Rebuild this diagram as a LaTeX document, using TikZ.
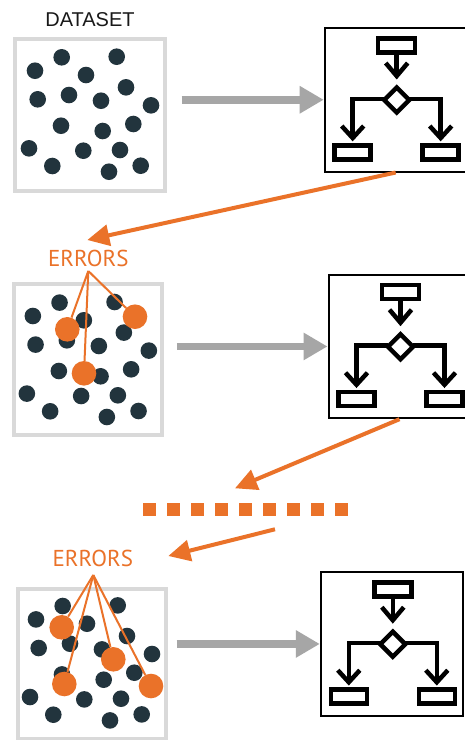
\documentclass[tikz,border=0pt]{standalone}
\usepackage{fontspec}
\setmainfont{Liberation Sans}
\newfontfamily\errfont{PT Sans}
\usetikzlibrary{arrows.meta,calc}

\definecolor{dotc}{HTML}{22343D}
\definecolor{errc}{HTML}{EA7229}
\definecolor{framec}{HTML}{D9D9D9}
\definecolor{flowc}{HTML}{A6A6A6}

% relative positions of the points inside one dataset frame
\newcommand\dotpattern{-28.3/-57.2, 26.7/-57.8, -55/-43.8, -4/-39.5, 36/-27.2,
  -52.3/-15.2, -21/-19.5, 11/-13.8, 61/-9.2, -29/11.2, 12.7/16.5, 43.3/9.5,
  -61/33.8, -6.7/36.2, 30/35.5, -37.7/51.5, 19/57.2, 50.7/51.2}

\tikzset{
  dsframe/.style={draw=framec, line width=4pt, inner sep=0pt},
  treeframe/.style={draw=black, line width=2pt, inner sep=0pt,
    minimum width=142pt, minimum height=143.5pt},
  icon/.style={draw=black, line width=4.5pt, line join=miter},
  errdot/.style={circle, fill=errc, inner sep=0pt, minimum size=24.6pt},
  errline/.style={draw=errc, line width=2pt},
  errarrow/.style={draw=errc, line width=4pt,
    -{Triangle[length=22pt,width=21pt]}},
  flow/.style={draw=flowc, line width=7.5pt,
    -{Triangle[length=24pt,width=26pt]}},
  errlabel/.style={text=errc, font=\errfont\fontsize{23}{23}\selectfont,
    inner sep=0pt, anchor=base},
  dstitle/.style={text=black!90, font=\fontsize{20}{20}\selectfont, inner sep=0pt},
  treeicon/.pic={
    \node[treeframe] (box) at (-1,-0.25) {};
    \draw[icon] (-18.5,-61.5) rectangle (18.5,-47.5);
    \draw[icon] (0,-47.5) -- (0,-24);
    \draw[icon] (-11,-37) -- (0,-24) -- (11,-37);
    \draw[icon] (0,-12.5) -- (12.5,0) -- (0,12.5) -- (-12.5,0) -- cycle;
    \draw[icon] (-12.5,-1) -- (-44,-1) -- (-44,38);
    \draw[icon] (-55,26) -- (-44,38) -- (-33,26);
    \draw[icon] (12.5,-1) -- (44,-1) -- (44,38);
    \draw[icon] (33,26) -- (44,38) -- (55,26);
    \draw[icon] (-62,45.5) rectangle (-26,59.5);
    \draw[icon] (26,45.5) rectangle (62,59.5);
  }
}

\begin{document}
\begin{tikzpicture}[x=1pt,y=-1pt]
  \useasboundingbox (0,0) rectangle (465,740);
  \clip (0,0) rectangle (465,740);
  \fill[white] (0,0) rectangle (465,740);

  % ---- datasets ----
  \node[dstitle] (title) at (90,20) {DATASET};
  \node[dsframe, minimum width=150pt, minimum height=152pt] (ds1) at (90,114.5) {};
  \node[dsframe, minimum width=148.5pt, minimum height=151pt] (ds2) at (87.85,359.8) {};
  \node[dsframe, minimum width=148.5pt, minimum height=150pt] (ds3) at (92,663.5) {};

  \foreach \cx/\cy in {90/114.5, 87.85/359.8, 91/663.2}{
    \begin{scope}[shift={(\cx,\cy)}]
      \foreach \px/\py in \dotpattern
        \fill[dotc] (\px,\py) circle (8.3pt);
    \end{scope}
  }

  % ---- decision trees ----
  \pic (t1) at (396.7,100) {treeicon};
  \pic (t2) at (400.5,346.7) {treeicon};
  \pic (t3) at (392.8,644.2) {treeicon};

  % ---- training arrows ----
  \draw[flow, shorten <=14.7pt] (ds1.east |- t1box.west) -- (t1box.west);
  \draw[flow, shorten <=12.7pt] (ds2.east |- t2box.west) -- (t2box.west);
  \draw[flow, shorten <=8.4pt] (ds3.east |- t3box.west) -- (t3box.west);

  % ---- first round of errors ----
  \node[errlabel] (er1) at (88.3,266) {ERRORS};
  \coordinate (f1) at (88.3,271);
  \node[errdot] (o21) at (67.3,329.3) {};
  \node[errdot] (o22) at (135,316.7) {};
  \node[errdot] (o23) at (84,373.3) {};
  \foreach \o in {o21,o22,o23} \draw[errline] (f1) -- (\o);

  % ---- later round of errors ----
  \node[errlabel] (er2) at (92.8,566.7) {ERRORS};
  \coordinate (f2) at (93.3,575);
  \node[errdot] (o31) at (61.7,627.3) {};
  \node[errdot] (o32) at (113.3,659.3) {};
  \node[errdot] (o33) at (64.3,684) {};
  \node[errdot] (o34) at (151,686) {};
  \foreach \o in {o31,o32,o33,o34} \draw[errline] (f2) -- (\o);

  % ---- feedback arrows ----
  \coordinate (a1) at (87.3,240);
  \coordinate (a2) at (235,488.3);
  \coordinate (a3s) at (275,529.3);
  \coordinate (a3) at (168.3,556);
  \draw[errarrow] (t1box.south) -- (a1);
  \draw[errarrow] (t2box.south) -- (a2);
  \draw[errarrow] (a3s) -- (a3);

  % ---- ellipsis of further rounds ----
  \coordinate (dl) at (143.3,509.7);
  \coordinate (dr) at (347.7,509.7);
  \draw[errc, line width=12.7pt, dash pattern=on 12.7pt off 11.3pt] (dl) -- (dr);
\end{tikzpicture}
\end{document}
